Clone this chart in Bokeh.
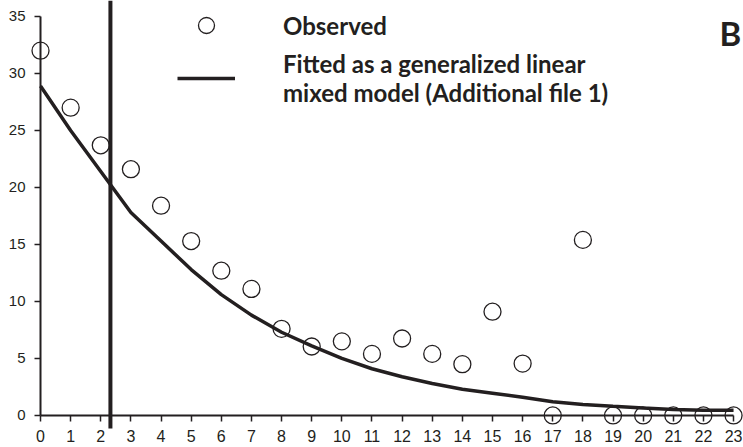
from bokeh.plotting import figure
from bokeh.models import Range1d, LinearAxis, FixedTicker, Legend, LegendItem, Label
from bokeh.embed import file_html
from bokeh.resources import INLINE

weeks = list(range(24))
observed = [32.0, 27.0, 23.7, 21.6, 18.4, 15.3, 12.7, 11.1, 7.6, 6.05, 6.5, 5.4,
            6.75, 5.4, 4.5, 9.1, 4.55, 0, 15.4, 0, 0, 0, 0, 0]
fitted = [28.9, 25.0, 21.4, 17.8, 15.3, 12.8, 10.6, 8.8, 7.3, 6.1, 5.0, 4.1,
          3.4, 2.8, 2.3, 1.95, 1.6, 1.2, 0.96, 0.8, 0.65, 0.52, 0.46, 0.45]
y_ticks = [0, 5, 10, 15, 20, 25, 30, 35]
cutoff = 2.32
label_obs = "Observed"
label_fit = "Fitted as a generalized linear\nmixed model (Additional file 1)"

INK = "#231f20"

p = figure(width=743, height=447, x_range=Range1d(-1.328, 23.33),
           y_range=Range1d(-2.81, 36.4), output_backend="svg",
           toolbar_location=None, min_border=0, x_axis_type=None, y_axis_type=None)
p.outline_line_color = None
p.xgrid.visible = False
p.ygrid.visible = False

def style(ax, size, standoff):
    ax.axis_line_color = INK
    ax.axis_line_width = 2
    ax.major_tick_line_color = INK
    ax.major_tick_line_width = 1.5
    ax.minor_tick_line_color = None
    ax.major_tick_in = 0
    ax.major_tick_out = 6
    ax.major_label_text_font = "Liberation Sans"
    ax.major_label_text_font_size = size
    ax.major_label_text_color = INK
    ax.major_label_standoff = standoff

xaxis = LinearAxis(fixed_location=0, ticker=FixedTicker(ticks=weeks), bounds=(0, 23))
style(xaxis, "16px", 9)
p.add_layout(xaxis, "below")
yaxis = LinearAxis(fixed_location=0, ticker=FixedTicker(ticks=y_ticks), bounds=(0, 35))
style(yaxis, "15px", 9)
p.add_layout(yaxis, "left")

p.segment(x0=[cutoff], y0=[-1.15], x1=[cutoff], y1=[36.4], line_width=4, line_color=INK)
r_obs = p.scatter(weeks, observed, marker="circle", size=17, fill_color=None,
                  line_color=INK, line_width=1.3)
r_fit = p.line(weeks, fitted, line_width=3.5, line_color=INK)

legend = Legend(items=[LegendItem(label=label_obs, renderers=[r_obs]),
                       LegendItem(label=label_fit, renderers=[r_fit])],
                location=(177, 340), glyph_width=58, glyph_height=40,
                label_standoff=48, padding=0, margin=0, spacing=4,
                border_line_color=None, background_fill_alpha=0,
                label_text_font="Lato", label_text_font_style="bold",
                label_text_font_size="24px", label_text_color=INK)
p.add_layout(legend, "center")

p.add_layout(Label(x=719, y=447 - 32, x_units="screen", y_units="screen", text="B",
                   text_font="Lato", text_font_style="bold", text_font_size="33px",
                   text_color=INK, text_baseline="alphabetic"))

open("out.html", "w").write(file_html(p, INLINE))
